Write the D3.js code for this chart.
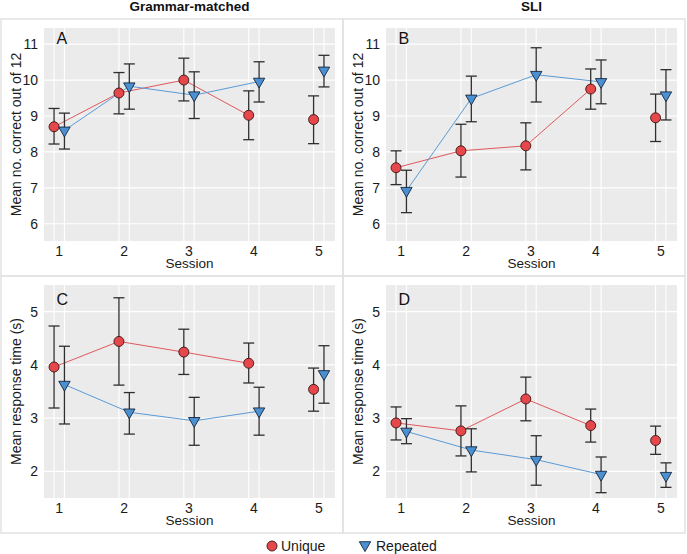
<!DOCTYPE html>
<html>
<head>
<meta charset="utf-8">
<script src="https://cdn.jsdelivr.net/npm/d3@7"></script>
<style>
  body { margin: 0; background: #fff; }
  svg { display: block; font-family: "Liberation Sans", Arial, sans-serif; }
  .tick-label { font-size: 14px; fill: #1a1a1a; }
  .axis-title { font-size: 13.5px; fill: #1a1a1a; }
</style>
</head>
<body>
<div id="chart"></div>
<script>
// sessions on the x axis
var sessions = [1, 2, 3, 4, 5];
var groups = ["Grammar-matched", "SLI"];
var conditions = ["Unique", "Repeated"];
var accTicks = [6, 7, 8, 9, 10, 11];
var rtTicks = [2, 3, 4, 5];

// A: Grammar-matched, accuracy
var gmAccUnique   = [8.70, 9.64, 10.00, 9.02, 8.90];
var gmAccUniqueLo = [8.22, 9.06, 9.42, 8.34, 8.23];
var gmAccUniqueHi = [9.21, 10.21, 10.61, 9.70, 9.56];
var gmAccRep      = [8.60, 9.83, 9.58, 9.96, 10.27];
var gmAccRepLo    = [8.08, 9.19, 8.93, 9.39, 9.81];
var gmAccRepHi    = [9.08, 10.45, 10.23, 10.51, 10.69];

// B: SLI, accuracy
var sliAccUnique   = [7.56, 8.03, 8.17, 9.75, 8.95];
var sliAccUniqueLo = [7.09, 7.30, 7.50, 9.19, 8.29];
var sliAccUniqueHi = [8.03, 8.77, 8.81, 10.31, 9.61];
var sliAccRep      = [6.92, 9.49, 10.15, 9.95, 9.58];
var sliAccRepLo    = [6.31, 8.84, 9.39, 9.34, 8.89];
var sliAccRepHi    = [7.49, 10.11, 10.90, 10.56, 10.29];

// C: Grammar-matched, response time
var gmRtUnique   = [3.96, 4.44, 4.24, 4.03, 3.54];
var gmRtUniqueLo = [3.19, 3.62, 3.82, 3.66, 3.13];
var gmRtUniqueHi = [4.73, 5.26, 4.67, 4.41, 3.94];
var gmRtRep      = [3.63, 3.11, 2.95, 3.13, 3.83];
var gmRtRepLo    = [2.89, 2.70, 2.49, 2.68, 3.28];
var gmRtRepHi    = [4.35, 3.48, 3.39, 3.58, 4.36];

// D: SLI, response time
var sliRtUnique   = [2.91, 2.76, 3.36, 2.86, 2.58];
var sliRtUniqueLo = [2.59, 2.29, 2.95, 2.55, 2.32];
var sliRtUniqueHi = [3.21, 3.23, 3.77, 3.17, 2.85];
var sliRtRep      = [2.75, 2.40, 2.22, 1.94, 1.92];
var sliRtRepLo    = [2.52, 1.99, 1.74, 1.60, 1.70];
var sliRtRepHi    = [2.99, 2.80, 2.67, 2.27, 2.16];

var width = 687, height = 554;
var boxW = 342, boxH = 257;
var plot = {left: 43, top: 9, width: 291, height: 213};
var dodge = 0.08, capHalf = 0.085;
var red = "#e5474b", blue = "#4a90d2";

var panels = [
  {id: "A", x0: 1, y0: 19, domain: [5.52, 11.45], ticks: accTicks, ylab: "Mean no. correct out of 12", labelDy: 15.5,
   u: [gmAccUnique, gmAccUniqueLo, gmAccUniqueHi], r: [gmAccRep, gmAccRepLo, gmAccRepHi]},
  {id: "B", x0: 343, y0: 19, domain: [5.52, 11.45], ticks: accTicks, ylab: "Mean no. correct out of 12", labelDy: 15.5,
   u: [sliAccUnique, sliAccUniqueLo, sliAccUniqueHi], r: [sliAccRep, sliAccRepLo, sliAccRepHi]},
  {id: "C", x0: 1, y0: 276, domain: [1.5, 5.5], ticks: rtTicks, ylab: "Mean response time (s)", labelDy: 20,
   u: [gmRtUnique, gmRtUniqueLo, gmRtUniqueHi], r: [gmRtRep, gmRtRepLo, gmRtRepHi]},
  {id: "D", x0: 343, y0: 276, domain: [1.5, 5.5], ticks: rtTicks, ylab: "Mean response time (s)", labelDy: 20,
   u: [sliRtUnique, sliRtUniqueLo, sliRtUniqueHi], r: [sliRtRep, sliRtRepLo, sliRtRepHi]}
];

var svg = d3.select("#chart").append("svg")
    .attr("width", width)
    .attr("height", height);

var triDown = d3.symbol().type(d3.symbolTriangle).size(56);

function toRows(arr, offset) {
  return sessions.map(function (s, i) {
    return {s: s, x: s + offset, m: arr[0][i], lo: arr[1][i], hi: arr[2][i]};
  });
}

panels.forEach(function (p) {
  var g = svg.append("g").attr("transform", "translate(" + p.x0 + "," + p.y0 + ")");

  g.append("rect")
      .attr("x", 0).attr("y", 0)
      .attr("width", boxW).attr("height", boxH)
      .attr("fill", "none")
      .attr("stroke", "#e2e2e2")
      .attr("stroke-width", 1.5);

  var x = d3.scaleLinear().domain([0.765, 5.25]).range([plot.left, plot.left + plot.width]);
  var y = d3.scaleLinear().domain(p.domain).range([plot.top + plot.height, plot.top]);

  g.append("rect")
      .attr("x", plot.left).attr("y", plot.top)
      .attr("width", plot.width).attr("height", plot.height)
      .attr("fill", "#ebebeb");

  // grid
  g.selectAll(".hgrid").data(p.ticks).enter().append("line")
      .attr("x1", plot.left).attr("x2", plot.left + plot.width)
      .attr("y1", function (d) { return y(d); }).attr("y2", function (d) { return y(d); })
      .attr("stroke", "#fff").attr("stroke-width", 1.1);
  var vg = [];
  sessions.forEach(function (s) { vg.push(s - dodge, s + dodge); });
  g.selectAll(".vgrid").data(vg).enter().append("line")
      .attr("x1", function (d) { return x(d); }).attr("x2", function (d) { return x(d); })
      .attr("y1", plot.top).attr("y2", plot.top + plot.height)
      .attr("stroke", "#fff").attr("stroke-width", 1.1);

  // axes text
  g.selectAll(".ytick").data(p.ticks).enter().append("text")
      .attr("class", "tick-label")
      .attr("x", plot.left - 6)
      .attr("y", function (d) { return y(d); })
      .attr("dy", "0.36em")
      .attr("text-anchor", "end")
      .text(function (d) { return d; });
  g.selectAll(".xtick").data(sessions).enter().append("text")
      .attr("class", "tick-label")
      .attr("x", function (d) { return x(d); })
      .attr("y", plot.top + plot.height + 15)
      .attr("text-anchor", "middle")
      .text(function (d) { return d; });
  g.append("text")
      .attr("class", "axis-title")
      .attr("x", plot.left + plot.width / 2)
      .attr("y", plot.top + plot.height + 26.5)
      .attr("text-anchor", "middle")
      .text("Session");
  g.append("text")
      .attr("class", "axis-title")
      .style("font-size", "14px")
      .attr("transform", "translate(20," + (plot.top + plot.height / 2) + ") rotate(-90)")
      .attr("text-anchor", "middle")
      .text(p.ylab);
  g.append("text")
      .attr("x", plot.left + 12.5)
      .attr("y", plot.top + p.labelDy)
      .style("font-size", "16px")
      .attr("fill", "#111")
      .text(p.id);

  var uRows = toRows(p.u, -dodge);
  var rRows = toRows(p.r, dodge);

  var line = d3.line().x(function (d) { return x(d.x); }).y(function (d) { return y(d.m); });
  g.append("path").datum(uRows.slice(0, 4))
      .attr("d", line).attr("fill", "none")
      .attr("stroke", "#e0595c").attr("stroke-width", 1);
  g.append("path").datum(rRows.slice(0, 4))
      .attr("d", line).attr("fill", "none")
      .attr("stroke", "#5a9bd6").attr("stroke-width", 1);

  // error bars
  var all = uRows.concat(rRows);
  var eb = g.selectAll(".eb").data(all).enter().append("g")
      .attr("stroke", "#2e2e2e").attr("stroke-width", 1.3).attr("fill", "none");
  eb.append("line")
      .attr("x1", function (d) { return x(d.x); }).attr("x2", function (d) { return x(d.x); })
      .attr("y1", function (d) { return y(d.lo); }).attr("y2", function (d) { return y(d.hi); });
  eb.append("line")
      .attr("x1", function (d) { return x(d.x - capHalf); }).attr("x2", function (d) { return x(d.x + capHalf); })
      .attr("y1", function (d) { return y(d.lo); }).attr("y2", function (d) { return y(d.lo); });
  eb.append("line")
      .attr("x1", function (d) { return x(d.x - capHalf); }).attr("x2", function (d) { return x(d.x + capHalf); })
      .attr("y1", function (d) { return y(d.hi); }).attr("y2", function (d) { return y(d.hi); });

  // points
  g.selectAll(".pu").data(uRows).enter().append("circle")
      .attr("cx", function (d) { return x(d.x); })
      .attr("cy", function (d) { return y(d.m); })
      .attr("r", 5)
      .attr("fill", red).attr("stroke", "#3a1414").attr("stroke-width", 0.9);
  g.selectAll(".pr").data(rRows).enter().append("path")
      .attr("d", triDown)
      .attr("transform", function (d) { return "translate(" + x(d.x) + "," + y(d.m) + ") rotate(180)"; })
      .attr("fill", blue).attr("stroke", "#16263a").attr("stroke-width", 0.9);
});

// column titles
groups.forEach(function (name, i) {
  svg.append("text")
      .attr("x", [1, 343][i] + plot.left + plot.width / 2)
      .attr("y", 11)
      .attr("text-anchor", "middle")
      .style("font-size", "13.5px")
      .style("font-weight", "bold")
      .attr("fill", "#111")
      .text(name);
});

// legend
var leg = svg.append("g");
leg.append("circle").attr("cx", 272).attr("cy", 546).attr("r", 5)
    .attr("fill", red).attr("stroke", "#3a1414").attr("stroke-width", 0.9);
leg.append("text").attr("x", 281).attr("y", 551).style("font-size", "14px").attr("fill", "#1a1a1a").text(conditions[0]);
leg.append("path").attr("d", triDown)
    .attr("transform", "translate(365,545) rotate(180)")
    .attr("fill", blue).attr("stroke", "#16263a").attr("stroke-width", 0.9);
leg.append("text").attr("x", 376).attr("y", 551).style("font-size", "14px").attr("fill", "#1a1a1a").text(conditions[1]);
</script>
</body>
</html>
